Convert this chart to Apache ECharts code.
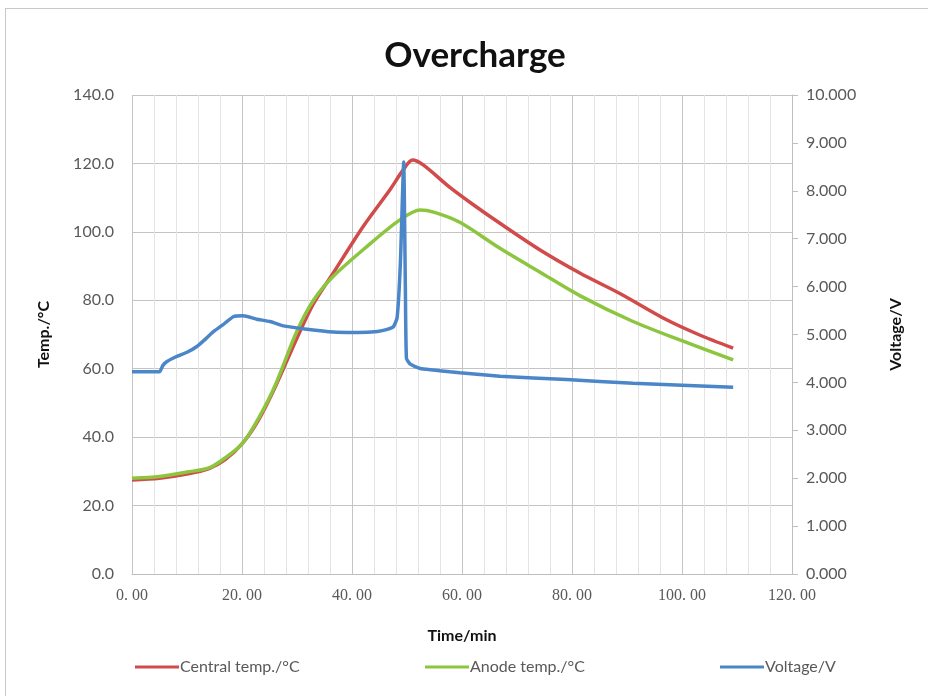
<!DOCTYPE html>
<html>
<head>
<meta charset="utf-8">
<script src="https://cdn.jsdelivr.net/npm/echarts@6/dist/echarts.min.js"></script>
<style>
  html, body { margin: 0; padding: 0; background: #fff; }
  #frame { position: absolute; left: 5px; top: 8px; width: 940px; height: 700px; border: 1px solid #c8c8c8; }
  #myChart { width: 928px; height: 696px; position: absolute; left: 0; top: 0; }
</style>
</head>
<body>
<div id="frame"></div>
<div id="myChart"></div>
<script>
// time (min), value pairs
const centralTemp = [
  [0, 27.5], [5, 28], [10, 29.2], [14, 30.8], [17, 33.5], [20, 38], [23, 45], [26, 54.5],
  [30, 69], [33, 79], [36.6, 88], [42, 101.5], [46.9, 112.3], [49.3, 118.1], [51, 121],
  [53, 119.5], [57.8, 113], [62, 108], [66.9, 102.5], [74.2, 94.7], [81.5, 87.9],
  [88.7, 82], [97.2, 74.3], [103, 70], [109.3, 66]
];
const anodeTemp = [
  [0, 28], [5, 28.5], [10, 29.8], [14, 31], [17, 34], [20, 38], [23, 45.5], [26, 55],
  [30, 71], [33, 80], [36.6, 87], [42.7, 95.7], [48.7, 103.5], [52.4, 106.4], [55, 105.7],
  [59.6, 102.8], [66.9, 95.2], [74.2, 88.2], [81.5, 81.3], [91.1, 73.8], [99.6, 68.4], [109.3, 62.6]
];
const voltage = [
  [0, 4.22], [5, 4.22], [5.6, 4.35], [6.3, 4.43], [8.1, 4.54], [10, 4.63], [11.8, 4.75],
  [13.5, 4.92], [14.8, 5.06], [16.5, 5.2], [18.4, 5.37], [20.2, 5.39], [22.7, 5.32],
  [25.1, 5.27], [27.5, 5.18], [31.8, 5.11], [36.6, 5.05], [40.2, 5.04], [43.5, 5.05],
  [45.5, 5.08], [47.5, 5.16], [48.2, 5.35], [48.8, 6.5], [49.4, 8.6], [49.7, 6.0],
  [49.9, 4.5], [50.6, 4.38], [52.4, 4.29], [54.8, 4.26], [57.8, 4.22], [59.6, 4.2],
  [66.9, 4.13], [79, 4.06], [91.1, 3.98], [109.3, 3.9]
];

const chart = echarts.init(document.getElementById('myChart'));
const grey = '#595959';

chart.setOption({
  backgroundColor: 'transparent',
  title: {
    text: 'Overcharge',
    left: 470,
    textAlign: 'center',
    top: 33,
    textStyle: { fontFamily: 'Lato', fontWeight: 'bold', fontSize: 35, color: '#111' }
  },
  legend: [
    { data: ['Central temp./°C'], left: 130 },
    { data: ['Anode temp./°C'], left: 420 },
    { data: ['Voltage/V'], left: 715 }
  ].map(l => Object.assign(l, {
    top: 654, icon: 'rect', itemWidth: 44, itemHeight: 3, itemGap: 4,
    textStyle: { fontFamily: 'Lato', fontSize: 16, color: grey, padding: [0, 0, 0, -4] }
  })),
  grid: { left: 132, right: 136, top: 95, bottom: 122 },
  xAxis: {
    type: 'value', min: 0, max: 120, interval: 20,
    name: 'Time/min', nameLocation: 'middle', nameGap: 54,
    nameTextStyle: { fontFamily: 'Lato', fontWeight: 'bold', fontSize: 16, color: '#111' },
    axisLine: { show: true, lineStyle: { color: '#bfbfbf' } },
    axisTick: { show: false },
    axisLabel: {
      margin: 14, color: grey, fontFamily: 'Liberation Serif', fontSize: 16,
      formatter: v => v.toFixed(2).replace('.', '. ')
    },
    splitLine: { show: true, lineStyle: { color: '#c4c4c4', width: 1 } },
    minorTick: { show: false, splitNumber: 5 },
    minorSplitLine: { show: true, lineStyle: { color: '#e4e4e4', width: 1 } }
  },
  yAxis: [
    {
      type: 'value', min: 0, max: 140, interval: 20,
      name: 'Temp./°C', nameLocation: 'middle', nameGap: 80,
      nameTextStyle: { fontFamily: 'Lato', fontWeight: 'bold', fontSize: 16, color: '#111' },
      axisLine: { show: false }, axisTick: { show: false },
      axisLabel: { margin: 18, color: grey, fontFamily: 'Lato', fontSize: 16, formatter: v => v.toFixed(1) },
      splitLine: { lineStyle: { color: '#c4c4c4', width: 1 } }
    },
    {
      type: 'value', min: 0, max: 10, interval: 1,
      name: 'Voltage/V', nameLocation: 'middle', nameGap: 96, nameRotate: 90,
      nameTextStyle: { fontFamily: 'Lato', fontWeight: 'bold', fontSize: 16, color: '#111' },
      axisLine: { show: true, lineStyle: { color: '#bfbfbf' } },
      axisTick: { show: true, length: 6, lineStyle: { color: '#bfbfbf' } },
      axisLabel: { margin: 14, color: grey, fontFamily: 'Lato', fontSize: 16, formatter: v => v.toFixed(3) },
      splitLine: { show: false }
    }
  ],
  series: [
    {
      name: 'Central temp./°C', type: 'line', data: centralTemp, smooth: 0.3,
      showSymbol: false, symbol: 'none', yAxisIndex: 0,
      lineStyle: { color: '#d14b4b', width: 3.5 }, itemStyle: { color: '#d14b4b' }
    },
    {
      name: 'Anode temp./°C', type: 'line', data: anodeTemp, smooth: 0.3,
      showSymbol: false, symbol: 'none', yAxisIndex: 0,
      lineStyle: { color: '#8cc63f', width: 3.5 }, itemStyle: { color: '#8cc63f' }
    },
    {
      name: 'Voltage/V', type: 'line', data: voltage, smooth: 0.15,
      showSymbol: false, symbol: 'none', yAxisIndex: 1,
      lineStyle: { color: '#4a86c8', width: 3.5 }, itemStyle: { color: '#4a86c8' }
    }
  ]
});
</script>
</body>
</html>
